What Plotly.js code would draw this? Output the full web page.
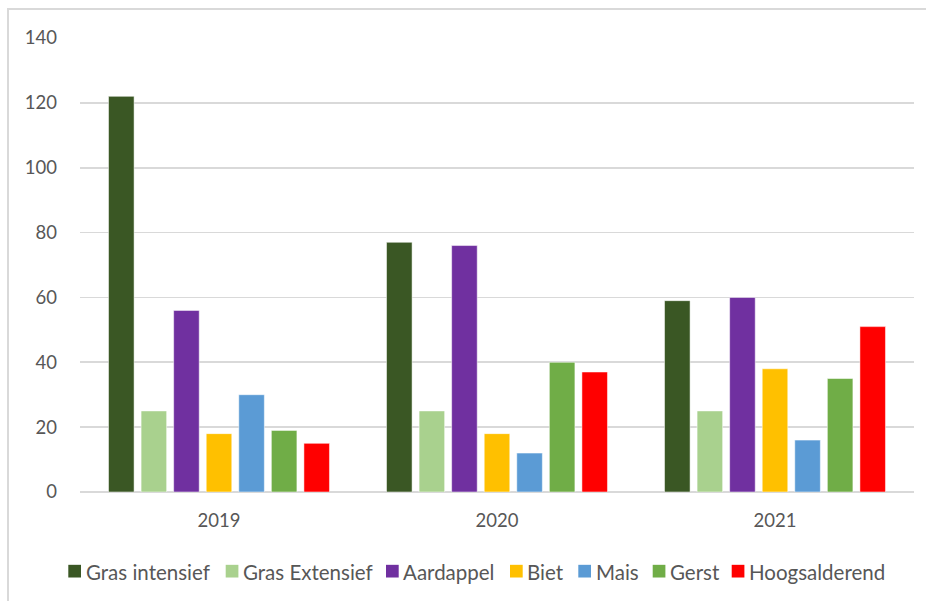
<!DOCTYPE html>
<html>
<head>
<meta charset="utf-8">
<script src="https://cdn.plot.ly/plotly-3.0.1.min.js"></script>
<style>
  html, body { margin: 0; padding: 0; background: #ffffff; overflow: hidden; }
  #frame { position: absolute; left: 7px; top: 8px; width: 1000px; height: 700px;
           border-left: 2px solid #d9d9d9; border-top: 2px solid #d9d9d9; }
  #chart { position: absolute; left: 0; top: 0; width: 926px; height: 601px; }
</style>
</head>
<body>
<div id="frame"></div>
<div id="chart"></div>
<script>
// ---- data ----
const years = ['2019', '2020', '2021'];
const seriesNames = ['Gras intensief', 'Gras Extensief', 'Aardappel', 'Biet', 'Mais', 'Gerst', 'Hoogsalderend'];
const grasIntensief = [122, 77, 59];
const grasExtensief = [25, 25, 25];
const aardappel = [56, 76, 60];
const biet = [18, 18, 38];
const mais = [30, 12, 16];
const gerst = [19, 40, 35];
const hoogsalderend = [15, 37, 51];
const seriesValues = [grasIntensief, grasExtensief, aardappel, biet, mais, gerst, hoogsalderend];
const yTicks = [0, 20, 40, 60, 80, 100, 120, 140];

// ---- styles / layout constants ----
const seriesColors = ['#3a5724', '#a9d18e', '#7030a0', '#ffc000', '#5b9bd5', '#70ad47', '#ff0000'];
const font = 'Lato, "Open Sans", sans-serif';
const textColor = '#575757';
const W = 926, H = 601;
const M = { l: 80, r: 12, t: 37.6, b: 109.2 };
const plotW = W - M.l - M.r, plotH = H - M.t - M.b;
const px2x = px => (px - M.l) / plotW;
const py2y = py => (H - M.b - py) / plotH;

// legend key placement (pixels, left edge of each key square)
const legendKeyLeftPx = [68.3, 225.7, 386, 510, 578.3, 652.7, 731.7];
const legendKeySize = 12.7;
const legendCenterPy = 571;

const traces = seriesNames.map((name, i) => ({
  type: 'bar',
  name: name,
  x: years,
  y: seriesValues[i],
  marker: { color: seriesColors[i], line: { color: 'rgba(255,255,255,0.5)', width: 1 } },
  hoverinfo: 'x+y+name'
}));

const shapes = seriesNames.map((name, i) => ({
  type: 'rect',
  xref: 'paper', yref: 'paper',
  x0: px2x(legendKeyLeftPx[i]),
  x1: px2x(legendKeyLeftPx[i] + legendKeySize),
  y0: py2y(legendCenterPy + legendKeySize / 2),
  y1: py2y(legendCenterPy - legendKeySize / 2),
  fillcolor: seriesColors[i],
  line: { width: 0 }
}));

const annotations = seriesNames.map((name, i) => ({
  text: name,
  xref: 'paper', yref: 'paper',
  x: px2x(legendKeyLeftPx[i] + legendKeySize + 3.5),
  y: py2y(legendCenterPy + 0.5),
  xanchor: 'left', yanchor: 'middle',
  showarrow: false,
  borderpad: 0,
  font: { family: font, color: textColor, size: 20.5 }
}));

const layout = {
  width: W,
  height: H,
  margin: M,
  paper_bgcolor: 'rgba(0,0,0,0)',
  plot_bgcolor: 'rgba(0,0,0,0)',
  barmode: 'group',
  bargap: 0.18,
  bargroupgap: 0.215,
  font: { family: font, color: textColor, size: 18 },
  xaxis: {
    type: 'category',
    showgrid: false,
    showline: false,
    zeroline: false,
    ticks: '',
    automargin: false,
    ticklabelstandoff: 15,
    tickfont: { family: font, color: textColor, size: 18.5 }
  },
  yaxis: {
    range: [0, 140],
    tickvals: yTicks,
    ticktext: yTicks.map(String),
    showgrid: true,
    gridcolor: '#d9d9d9',
    gridwidth: 1.6,
    zeroline: true,
    zerolinecolor: '#d9d9d9',
    zerolinewidth: 1.6,
    showline: false,
    ticks: '',
    automargin: false,
    ticklabelstandoff: 22,
    tickfont: { family: font, color: textColor, size: 18.5 }
  },
  showlegend: false,
  shapes: shapes,
  annotations: annotations
};

Plotly.newPlot('chart', traces, layout, { displayModeBar: false, staticPlot: true });
</script>
</body>
</html>
